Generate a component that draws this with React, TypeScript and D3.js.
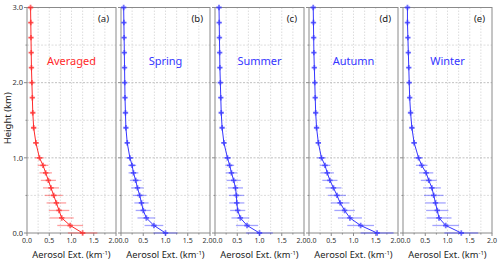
import { useEffect, useRef } from 'react';
import * as d3 from 'd3';

// heights (km): every 0.1 km up to 1 km, then every 0.2 km
const heights = [0, 0.1, 0.2, 0.3, 0.4, 0.5, 0.6, 0.7, 0.8, 0.9, 1.0, 1.2, 1.4, 1.6, 1.8, 2.0, 2.2, 2.4, 2.6, 2.8, 3.0];

const averagedExt = [1.25, 0.97, 0.78, 0.72, 0.66, 0.6, 0.54, 0.48, 0.42, 0.36, 0.28, 0.2, 0.15, 0.13, 0.12, 0.11, 0.1, 0.095, 0.09, 0.085, 0.08];
const averagedErr = [0.33, 0.29, 0.27, 0.23, 0.22, 0.2, 0.18, 0.17, 0.14, 0.12, 0.1, 0.06, 0.05, 0.04, 0.04, 0.04, 0.04, 0.04, 0.04, 0.04, 0.04];

const springExt = [1.0, 0.74, 0.57, 0.5, 0.46, 0.42, 0.37, 0.33, 0.28, 0.25, 0.2, 0.14, 0.11, 0.1, 0.09, 0.085, 0.08, 0.075, 0.07, 0.065, 0.06];
const springErr = [0.27, 0.21, 0.2, 0.17, 0.16, 0.15, 0.14, 0.13, 0.11, 0.09, 0.08, 0.05, 0.04, 0.04, 0.04, 0.04, 0.04, 0.04, 0.04, 0.04, 0.04];

const summerExt = [1.0, 0.72, 0.57, 0.51, 0.49, 0.48, 0.46, 0.42, 0.37, 0.33, 0.28, 0.2, 0.16, 0.14, 0.13, 0.12, 0.11, 0.105, 0.1, 0.095, 0.09];
const summerErr = [0.3, 0.25, 0.2, 0.17, 0.17, 0.17, 0.17, 0.16, 0.13, 0.1, 0.08, 0.05, 0.04, 0.04, 0.04, 0.04, 0.04, 0.04, 0.04, 0.04, 0.04];

const autumnExt = [1.53, 1.16, 0.92, 0.8, 0.7, 0.63, 0.55, 0.47, 0.41, 0.36, 0.28, 0.21, 0.17, 0.15, 0.14, 0.13, 0.12, 0.11, 0.105, 0.1, 0.095];
const autumnErr = [0.37, 0.3, 0.27, 0.23, 0.21, 0.2, 0.18, 0.17, 0.15, 0.12, 0.1, 0.06, 0.05, 0.04, 0.04, 0.04, 0.04, 0.04, 0.04, 0.04, 0.04];

const winterExt = [1.31, 0.96, 0.81, 0.77, 0.73, 0.69, 0.65, 0.58, 0.52, 0.42, 0.35, 0.25, 0.2, 0.17, 0.15, 0.14, 0.13, 0.12, 0.11, 0.1, 0.1];
const winterErr = [0.38, 0.3, 0.28, 0.25, 0.23, 0.22, 0.2, 0.18, 0.16, 0.13, 0.1, 0.06, 0.05, 0.04, 0.04, 0.04, 0.04, 0.04, 0.04, 0.04, 0.04];

const panelLetters = ['(a)', '(b)', '(c)', '(d)', '(e)'];
const panelNames = ['Averaged', 'Spring', 'Summer', 'Autumn', 'Winter'];
const panelExt = [averagedExt, springExt, summerExt, autumnExt, winterExt];
const panelErr = [averagedErr, springErr, summerErr, autumnErr, winterErr];

const xTicks = [0, 0.5, 1.0, 1.5, 2.0];
const yTicks = [0, 1.0, 2.0, 3.0];

const RED = '#ff2a2a';
const BLUE = '#3535ff';
const FONT = '"Noto Sans", "Open Sans", sans-serif';

const Chart = ({ width = 500, height = 264 }) => {
    const svgRef = useRef<SVGSVGElement>(null);

    useEffect(() => {
        const root = d3.select(svgRef.current);
        root.selectAll('*').remove();

        const left = 27;
        const period = 94;
        const panelW = 89;
        const top = 7.5;
        const bottom = 233;
        const last = panelNames.length - 1;

        const y = d3.scaleLinear().domain([0, 3]).range([bottom, top]);

        root.append('text')
            .attr('transform', `translate(11,${(top + bottom) / 2 - 2}) rotate(-90)`)
            .attr('text-anchor', 'middle')
            .attr('font-family', FONT)
            .attr('font-size', 9.5)
            .attr('fill', '#222')
            .text('Height (km)');

        panelNames.forEach((name, p) => {
            const x0 = left + p * period;
            const x = d3.scaleLinear().domain([0, 2]).range([x0, x0 + panelW]);
            const color = p === 0 ? RED : BLUE;
            const g = root.append('g');

            // grid
            g.selectAll('.vgrid')
                .data(d3.range(0.25, 2, 0.25))
                .enter()
                .append('line')
                .attr('x1', d => x(d)).attr('x2', d => x(d))
                .attr('y1', top).attr('y2', bottom)
                .attr('stroke', '#d4d4d4').attr('stroke-width', 0.8)
                .attr('stroke-dasharray', '1.5,1.5');

            g.selectAll('.hgrid')
                .data(d3.range(0.5, 3, 0.5))
                .enter()
                .append('line')
                .attr('x1', x0).attr('x2', x0 + panelW)
                .attr('y1', d => y(d)).attr('y2', d => y(d))
                .attr('stroke', d => (d % 1 === 0 ? '#b0b0b0' : '#d4d4d4'))
                .attr('stroke-width', 0.8)
                .attr('stroke-dasharray', '2,1.5');

            // frame
            g.append('rect')
                .attr('x', x0).attr('y', top)
                .attr('width', panelW).attr('height', bottom - top)
                .attr('fill', 'none')
                .attr('stroke', '#8a8a8a').attr('stroke-width', 1);

            // ticks
            g.selectAll('.xtick')
                .data(d3.range(0, 2.01, 0.25))
                .enter()
                .append('line')
                .attr('x1', d => x(d)).attr('x2', d => x(d))
                .attr('y1', bottom).attr('y2', (d, i) => bottom + (i % 2 === 0 ? 3 : 1.5))
                .attr('stroke', '#8a8a8a');

            g.selectAll('.ytick')
                .data(d3.range(0, 3.01, 0.5))
                .enter()
                .append('line')
                .attr('x1', x0).attr('x2', (d, i) => x0 - (i % 2 === 0 ? 3 : 1.5))
                .attr('y1', d => y(d)).attr('y2', d => y(d))
                .attr('stroke', '#8a8a8a');

            // end labels are nudged apart where neighbouring panels meet
            g.selectAll('.xlabel')
                .data(xTicks)
                .enter()
                .append('text')
                .attr('x', d => {
                    if (d === 0 && p > 0) return x(d) + 2.5;
                    if (d === 2 && p < last) return x(d) - 2.5;
                    return x(d);
                })
                .attr('y', bottom + 10)
                .attr('text-anchor', 'middle')
                .attr('font-family', FONT)
                .attr('font-size', 7)
                .attr('fill', '#333')
                .text(d => d.toFixed(1));

            if (p === 0) {
                g.selectAll('.ylabel')
                    .data(yTicks)
                    .enter()
                    .append('text')
                    .attr('x', x0 - 4)
                    .attr('y', d => y(d) + 2.7)
                    .attr('text-anchor', 'end')
                    .attr('font-family', FONT)
                    .attr('font-size', 7.5)
                    .attr('fill', '#333')
                    .text(d => d.toFixed(1));
            }

            const xTitle = g.append('text')
                .attr('x', x0 + panelW / 2)
                .attr('y', bottom + 25)
                .attr('text-anchor', 'middle')
                .attr('font-family', FONT)
                .attr('font-size', 9.3)
                .attr('fill', '#222');
            xTitle.append('tspan').text('Aerosol Ext. (km');
            xTitle.append('tspan').attr('font-size', 6).attr('dy', -3.5).text('-1');
            xTitle.append('tspan').attr('dy', 3.5).text(')');

            g.append('text')
                .attr('x', x0 + panelW - 7)
                .attr('y', top + 14)
                .attr('text-anchor', 'end')
                .attr('font-family', FONT)
                .attr('font-size', 9.5)
                .attr('fill', '#222')
                .text(panelLetters[p]);

            g.append('text')
                .attr('x', x0 + panelW / 2)
                .attr('y', y(2.25) + 1.5)
                .attr('text-anchor', 'middle')
                .attr('font-family', FONT)
                .attr('font-size', 11)
                .attr('fill', color)
                .text(name);

            const rows = heights.map((h, i) => ({ h, v: panelExt[p][i], e: panelErr[p][i] }));

            // error bars
            g.selectAll('.err')
                .data(rows)
                .enter()
                .append('line')
                .attr('x1', d => x(Math.max(0, d.v - d.e)))
                .attr('x2', d => x(d.v + d.e))
                .attr('y1', d => y(d.h)).attr('y2', d => y(d.h))
                .attr('stroke', color).attr('stroke-opacity', 0.45)
                .attr('stroke-width', 1.3);

            const line = d3.line<{ h: number; v: number }>()
                .x(d => x(d.v))
                .y(d => y(d.h));

            g.append('path')
                .datum(rows)
                .attr('d', line)
                .attr('fill', 'none')
                .attr('stroke', color)
                .attr('stroke-width', 1);

            // cross markers
            g.selectAll('.mark')
                .data(rows)
                .enter()
                .append('path')
                .attr('d', d3.symbol(d3.symbolCross, 16)())
                .attr('transform', d => `translate(${x(d.v)},${y(d.h)})`)
                .attr('fill', color)
                .attr('fill-opacity', 0.7);
        });
    }, [width, height]);

    return (
        <svg
            ref={svgRef}
            width={width}
            height={height}
            style={{ position: 'absolute', left: 0, top: 0, background: '#fff' }}
        />
    );
};

export default function App() {
    return <Chart />;
}
